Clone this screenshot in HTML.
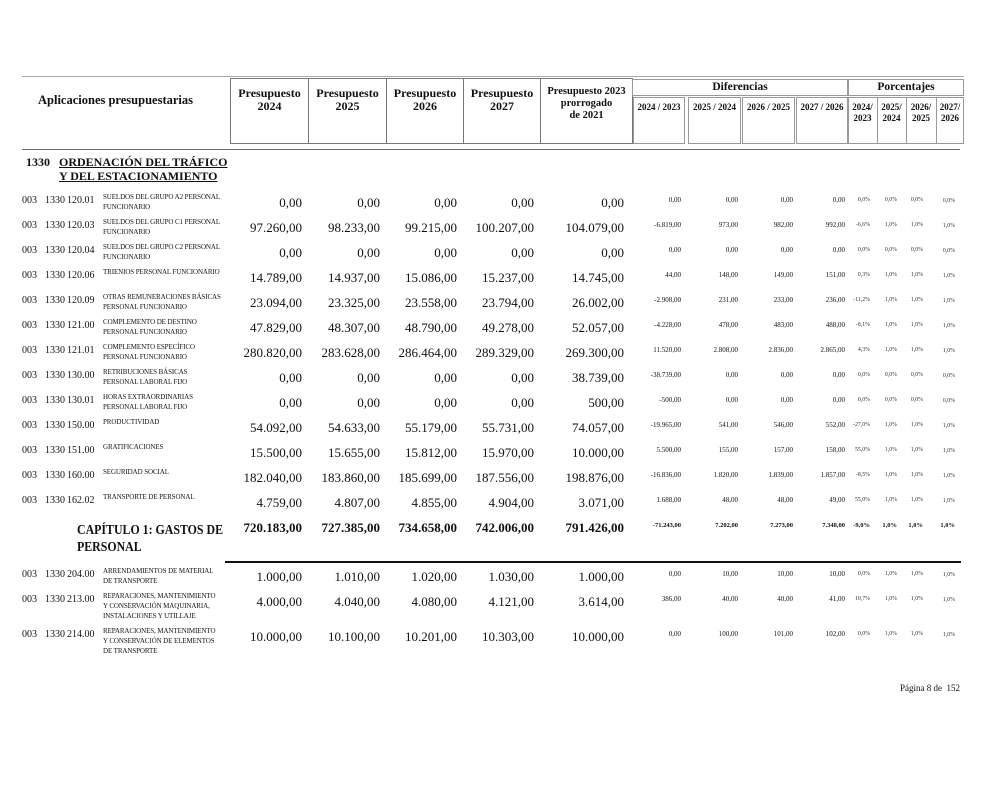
<!DOCTYPE html>
<html><head><meta charset="utf-8">
<style>
body{margin:0;background:#fff;}
#p{position:relative;width:1000px;height:792px;overflow:hidden;font-family:"Liberation Serif",serif;color:#111;}
.a{position:absolute;white-space:nowrap;}
.r{position:absolute;left:0;width:1000px;height:25px;}
.c{position:absolute;font-size:10px;top:0;}
.c1{left:22px}.c2{left:45px}.c3{left:67px}
.d{position:absolute;left:103px;font-size:7px;line-height:10px;top:-3px;letter-spacing:-0.1px;white-space:nowrap;}
.n{position:absolute;font-size:13px;top:0px;text-align:right;}
.s{position:absolute;font-size:7px;top:1px;text-align:right;}
.q{position:absolute;font-size:5.8px;top:2px;text-align:right;color:#333;}
.b{position:absolute;border:1px solid #555;box-sizing:border-box;}
.h{font-weight:bold;text-align:center;position:absolute;}
</style></head><body><div id="p">
<div class="a" style="left:22px;top:76px;width:942px;border-top:1px solid #aaa"></div>
<div class="a" style="left:22px;top:149px;width:938px;border-top:1px solid #666"></div>
<div class="h" style="left:38px;top:93px;font-size:12.5px">Aplicaciones presupuestarias</div>
<div class="b" style="left:230px;top:78px;width:79px;height:66px;border-color:#777"></div>
<div class="b" style="left:308px;top:78px;width:79px;height:66px;border-color:#777"></div>
<div class="b" style="left:386px;top:78px;width:78px;height:66px;border-color:#777"></div>
<div class="b" style="left:463px;top:78px;width:78px;height:66px;border-color:#777"></div>
<div class="b" style="left:540px;top:78px;width:93px;height:66px;border-color:#777"></div>
<div class="h" style="left:230px;top:87px;width:79px;font-size:12px;line-height:13px">Presupuesto<br>2024</div>
<div class="h" style="left:308px;top:87px;width:79px;font-size:12px;line-height:13px">Presupuesto<br>2025</div>
<div class="h" style="left:386px;top:87px;width:78px;font-size:12px;line-height:13px">Presupuesto<br>2026</div>
<div class="h" style="left:463px;top:87px;width:78px;font-size:12px;line-height:13px">Presupuesto<br>2027</div>
<div class="h" style="left:540px;top:86px;width:93px;font-size:10.5px;line-height:12px">Presupuesto 2023<br>prorrogado<br>de 2021</div>
<div class="b" style="left:632px;top:79px;width:216px;height:17px;border-color:#999"></div>
<div class="h" style="left:632px;top:81px;width:216px;font-size:11.5px">Diferencias</div>
<div class="b" style="left:848px;top:79px;width:116px;height:17px;border-color:#999"></div>
<div class="h" style="left:848px;top:81px;width:116px;font-size:11.5px">Porcentajes</div>
<div class="b" style="left:633px;top:97px;width:52px;height:47px;border-color:#999"></div>
<div class="b" style="left:688px;top:97px;width:53px;height:47px;border-color:#999"></div>
<div class="b" style="left:742px;top:97px;width:53px;height:47px;border-color:#999"></div>
<div class="b" style="left:796px;top:97px;width:52px;height:47px;border-color:#999"></div>
<div class="b" style="left:848px;top:97px;width:116px;height:47px;border-color:#999"></div>
<div class="a" style="left:877px;top:97px;height:47px;border-left:1px solid #999"></div>
<div class="a" style="left:906px;top:97px;height:47px;border-left:1px solid #999"></div>
<div class="a" style="left:936px;top:97px;height:47px;border-left:1px solid #999"></div>
<div class="h" style="left:633px;top:102px;width:52px;font-size:9px">2024 / 2023</div>
<div class="h" style="left:688px;top:102px;width:53px;font-size:9px">2025 / 2024</div>
<div class="h" style="left:742px;top:102px;width:53px;font-size:9px">2026 / 2025</div>
<div class="h" style="left:796px;top:102px;width:52px;font-size:9px">2027 / 2026</div>
<div class="h" style="left:848px;top:102px;width:29px;font-size:9px;line-height:11px">2024/<br>2023</div>
<div class="h" style="left:877px;top:102px;width:29px;font-size:9px;line-height:11px">2025/<br>2024</div>
<div class="h" style="left:906px;top:102px;width:30px;font-size:9px;line-height:11px">2026/<br>2025</div>
<div class="h" style="left:936px;top:102px;width:28px;font-size:9px;line-height:11px">2027/<br>2026</div>
<div class="a" style="left:26px;top:155px;font-size:12px;font-weight:bold">1330</div>
<div class="a" style="left:59px;top:155px;font-size:12px;font-weight:bold;text-decoration:underline;line-height:14px">ORDENACIÓN DEL TRÁFICO<br>Y DEL ESTACIONAMIENTO</div>

<div class="r" style="top:195px"><span class="c c1">003</span><span class="c c2">1330</span><span class="c c3">120.01</span><span class="d">SUELDOS DEL GRUPO A2 PERSONAL<br>FUNCIONARIO</span><span class="n" style="right:698px">0,00</span><span class="n" style="right:620px">0,00</span><span class="n" style="right:543px">0,00</span><span class="n" style="right:466px">0,00</span><span class="n" style="right:376px">0,00</span><span class="s" style="right:319px">0,00</span><span class="s" style="right:262px">0,00</span><span class="s" style="right:207px">0,00</span><span class="s" style="right:155px">0,00</span><span class="q" style="right:130px">0,0%</span><span class="q" style="right:103px">0,0%</span><span class="q" style="right:77px">0,0%</span><span class="q" style="right:45px;top:3px">0,0%</span></div>
<div class="r" style="top:220px"><span class="c c1">003</span><span class="c c2">1330</span><span class="c c3">120.03</span><span class="d">SUELDOS DEL GRUPO C1 PERSONAL<br>FUNCIONARIO</span><span class="n" style="right:698px">97.260,00</span><span class="n" style="right:620px">98.233,00</span><span class="n" style="right:543px">99.215,00</span><span class="n" style="right:466px">100.207,00</span><span class="n" style="right:376px">104.079,00</span><span class="s" style="right:319px">-6.819,00</span><span class="s" style="right:262px">973,00</span><span class="s" style="right:207px">982,00</span><span class="s" style="right:155px">992,00</span><span class="q" style="right:130px">-6,6%</span><span class="q" style="right:103px">1,0%</span><span class="q" style="right:77px">1,0%</span><span class="q" style="right:45px;top:3px">1,0%</span></div>
<div class="r" style="top:245px"><span class="c c1">003</span><span class="c c2">1330</span><span class="c c3">120.04</span><span class="d">SUELDOS DEL GRUPO C2 PERSONAL<br>FUNCIONARIO</span><span class="n" style="right:698px">0,00</span><span class="n" style="right:620px">0,00</span><span class="n" style="right:543px">0,00</span><span class="n" style="right:466px">0,00</span><span class="n" style="right:376px">0,00</span><span class="s" style="right:319px">0,00</span><span class="s" style="right:262px">0,00</span><span class="s" style="right:207px">0,00</span><span class="s" style="right:155px">0,00</span><span class="q" style="right:130px">0,0%</span><span class="q" style="right:103px">0,0%</span><span class="q" style="right:77px">0,0%</span><span class="q" style="right:45px;top:3px">0,0%</span></div>
<div class="r" style="top:270px"><span class="c c1">003</span><span class="c c2">1330</span><span class="c c3">120.06</span><span class="d">TRIENIOS PERSONAL FUNCIONARIO</span><span class="n" style="right:698px">14.789,00</span><span class="n" style="right:620px">14.937,00</span><span class="n" style="right:543px">15.086,00</span><span class="n" style="right:466px">15.237,00</span><span class="n" style="right:376px">14.745,00</span><span class="s" style="right:319px">44,00</span><span class="s" style="right:262px">148,00</span><span class="s" style="right:207px">149,00</span><span class="s" style="right:155px">151,00</span><span class="q" style="right:130px">0,3%</span><span class="q" style="right:103px">1,0%</span><span class="q" style="right:77px">1,0%</span><span class="q" style="right:45px;top:3px">1,0%</span></div>
<div class="r" style="top:295px"><span class="c c1">003</span><span class="c c2">1330</span><span class="c c3">120.09</span><span class="d">OTRAS REMUNERACIONES BÁSICAS<br>PERSONAL FUNCIONARIO</span><span class="n" style="right:698px">23.094,00</span><span class="n" style="right:620px">23.325,00</span><span class="n" style="right:543px">23.558,00</span><span class="n" style="right:466px">23.794,00</span><span class="n" style="right:376px">26.002,00</span><span class="s" style="right:319px">-2.908,00</span><span class="s" style="right:262px">231,00</span><span class="s" style="right:207px">233,00</span><span class="s" style="right:155px">236,00</span><span class="q" style="right:130px">-11,2%</span><span class="q" style="right:103px">1,0%</span><span class="q" style="right:77px">1,0%</span><span class="q" style="right:45px;top:3px">1,0%</span></div>
<div class="r" style="top:320px"><span class="c c1">003</span><span class="c c2">1330</span><span class="c c3">121.00</span><span class="d">COMPLEMENTO DE DESTINO<br>PERSONAL FUNCIONARIO</span><span class="n" style="right:698px">47.829,00</span><span class="n" style="right:620px">48.307,00</span><span class="n" style="right:543px">48.790,00</span><span class="n" style="right:466px">49.278,00</span><span class="n" style="right:376px">52.057,00</span><span class="s" style="right:319px">-4.228,00</span><span class="s" style="right:262px">478,00</span><span class="s" style="right:207px">483,00</span><span class="s" style="right:155px">488,00</span><span class="q" style="right:130px">-8,1%</span><span class="q" style="right:103px">1,0%</span><span class="q" style="right:77px">1,0%</span><span class="q" style="right:45px;top:3px">1,0%</span></div>
<div class="r" style="top:345px"><span class="c c1">003</span><span class="c c2">1330</span><span class="c c3">121.01</span><span class="d">COMPLEMENTO ESPECÍFICO<br>PERSONAL FUNCIONARIO</span><span class="n" style="right:698px">280.820,00</span><span class="n" style="right:620px">283.628,00</span><span class="n" style="right:543px">286.464,00</span><span class="n" style="right:466px">289.329,00</span><span class="n" style="right:376px">269.300,00</span><span class="s" style="right:319px">11.520,00</span><span class="s" style="right:262px">2.808,00</span><span class="s" style="right:207px">2.836,00</span><span class="s" style="right:155px">2.865,00</span><span class="q" style="right:130px">4,3%</span><span class="q" style="right:103px">1,0%</span><span class="q" style="right:77px">1,0%</span><span class="q" style="right:45px;top:3px">1,0%</span></div>
<div class="r" style="top:370px"><span class="c c1">003</span><span class="c c2">1330</span><span class="c c3">130.00</span><span class="d">RETRIBUCIONES BÁSICAS<br>PERSONAL LABORAL FIJO</span><span class="n" style="right:698px">0,00</span><span class="n" style="right:620px">0,00</span><span class="n" style="right:543px">0,00</span><span class="n" style="right:466px">0,00</span><span class="n" style="right:376px">38.739,00</span><span class="s" style="right:319px">-38.739,00</span><span class="s" style="right:262px">0,00</span><span class="s" style="right:207px">0,00</span><span class="s" style="right:155px">0,00</span><span class="q" style="right:130px">0,0%</span><span class="q" style="right:103px">0,0%</span><span class="q" style="right:77px">0,0%</span><span class="q" style="right:45px;top:3px">0,0%</span></div>
<div class="r" style="top:395px"><span class="c c1">003</span><span class="c c2">1330</span><span class="c c3">130.01</span><span class="d">HORAS EXTRAORDINARIAS<br>PERSONAL LABORAL FIJO</span><span class="n" style="right:698px">0,00</span><span class="n" style="right:620px">0,00</span><span class="n" style="right:543px">0,00</span><span class="n" style="right:466px">0,00</span><span class="n" style="right:376px">500,00</span><span class="s" style="right:319px">-500,00</span><span class="s" style="right:262px">0,00</span><span class="s" style="right:207px">0,00</span><span class="s" style="right:155px">0,00</span><span class="q" style="right:130px">0,0%</span><span class="q" style="right:103px">0,0%</span><span class="q" style="right:77px">0,0%</span><span class="q" style="right:45px;top:3px">0,0%</span></div>
<div class="r" style="top:420px"><span class="c c1">003</span><span class="c c2">1330</span><span class="c c3">150.00</span><span class="d">PRODUCTIVIDAD</span><span class="n" style="right:698px">54.092,00</span><span class="n" style="right:620px">54.633,00</span><span class="n" style="right:543px">55.179,00</span><span class="n" style="right:466px">55.731,00</span><span class="n" style="right:376px">74.057,00</span><span class="s" style="right:319px">-19.965,00</span><span class="s" style="right:262px">541,00</span><span class="s" style="right:207px">546,00</span><span class="s" style="right:155px">552,00</span><span class="q" style="right:130px">-27,0%</span><span class="q" style="right:103px">1,0%</span><span class="q" style="right:77px">1,0%</span><span class="q" style="right:45px;top:3px">1,0%</span></div>
<div class="r" style="top:445px"><span class="c c1">003</span><span class="c c2">1330</span><span class="c c3">151.00</span><span class="d">GRATIFICACIONES</span><span class="n" style="right:698px">15.500,00</span><span class="n" style="right:620px">15.655,00</span><span class="n" style="right:543px">15.812,00</span><span class="n" style="right:466px">15.970,00</span><span class="n" style="right:376px">10.000,00</span><span class="s" style="right:319px">5.500,00</span><span class="s" style="right:262px">155,00</span><span class="s" style="right:207px">157,00</span><span class="s" style="right:155px">158,00</span><span class="q" style="right:130px">55,0%</span><span class="q" style="right:103px">1,0%</span><span class="q" style="right:77px">1,0%</span><span class="q" style="right:45px;top:3px">1,0%</span></div>
<div class="r" style="top:470px"><span class="c c1">003</span><span class="c c2">1330</span><span class="c c3">160.00</span><span class="d">SEGURIDAD SOCIAL</span><span class="n" style="right:698px">182.040,00</span><span class="n" style="right:620px">183.860,00</span><span class="n" style="right:543px">185.699,00</span><span class="n" style="right:466px">187.556,00</span><span class="n" style="right:376px">198.876,00</span><span class="s" style="right:319px">-16.836,00</span><span class="s" style="right:262px">1.820,00</span><span class="s" style="right:207px">1.839,00</span><span class="s" style="right:155px">1.857,00</span><span class="q" style="right:130px">-8,5%</span><span class="q" style="right:103px">1,0%</span><span class="q" style="right:77px">1,0%</span><span class="q" style="right:45px;top:3px">1,0%</span></div>
<div class="r" style="top:495px"><span class="c c1">003</span><span class="c c2">1330</span><span class="c c3">162.02</span><span class="d">TRANSPORTE DE PERSONAL</span><span class="n" style="right:698px">4.759,00</span><span class="n" style="right:620px">4.807,00</span><span class="n" style="right:543px">4.855,00</span><span class="n" style="right:466px">4.904,00</span><span class="n" style="right:376px">3.071,00</span><span class="s" style="right:319px">1.688,00</span><span class="s" style="right:262px">48,00</span><span class="s" style="right:207px">48,00</span><span class="s" style="right:155px">49,00</span><span class="q" style="right:130px">55,0%</span><span class="q" style="right:103px">1,0%</span><span class="q" style="right:77px">1,0%</span><span class="q" style="right:45px;top:3px">1,0%</span></div>

<div class="r" style="top:520px;font-weight:bold"><span class="a" style="left:77px;top:1px;font-size:13.5px;line-height:17px;transform:scaleX(0.88);transform-origin:0 0">CAPÍTULO 1: GASTOS DE<br>PERSONAL</span><span class="n" style="right:698px">720.183,00</span><span class="n" style="right:620px">727.385,00</span><span class="n" style="right:543px">734.658,00</span><span class="n" style="right:466px">742.006,00</span><span class="n" style="right:376px">791.426,00</span><span class="s" style="right:319px;font-size:6.5px;top:2px">-71.243,00</span><span class="s" style="right:262px;font-size:6.5px;top:2px">7.202,00</span><span class="s" style="right:207px;font-size:6.5px;top:2px">7.273,00</span><span class="s" style="right:155px;font-size:6.5px;top:2px">7.348,00</span><span class="q" style="right:130px;font-size:6.5px;color:#111">-9,0%</span><span class="q" style="right:103px;font-size:6.5px;color:#111">1,0%</span><span class="q" style="right:77px;font-size:6.5px;color:#111">1,0%</span><span class="q" style="right:45px;font-size:6.5px;color:#111">1,0%</span></div>
<div class="a" style="left:225px;top:561px;width:736px;border-top:2px solid #111"></div>
<div class="r" style="top:569px"><span class="c c1">003</span><span class="c c2">1330</span><span class="c c3">204.00</span><span class="d">ARRENDAMIENTOS DE MATERIAL<br>DE TRANSPORTE</span><span class="n" style="right:698px">1.000,00</span><span class="n" style="right:620px">1.010,00</span><span class="n" style="right:543px">1.020,00</span><span class="n" style="right:466px">1.030,00</span><span class="n" style="right:376px">1.000,00</span><span class="s" style="right:319px">0,00</span><span class="s" style="right:262px">10,00</span><span class="s" style="right:207px">10,00</span><span class="s" style="right:155px">10,00</span><span class="q" style="right:130px">0,0%</span><span class="q" style="right:103px">1,0%</span><span class="q" style="right:77px">1,0%</span><span class="q" style="right:45px;top:3px">1,0%</span></div>
<div class="r" style="top:594px"><span class="c c1">003</span><span class="c c2">1330</span><span class="c c3">213.00</span><span class="d">REPARACIONES, MANTENIMIENTO<br>Y CONSERVACIÓN MAQUINARIA,<br>INSTALACIONES Y UTILLAJE</span><span class="n" style="right:698px">4.000,00</span><span class="n" style="right:620px">4.040,00</span><span class="n" style="right:543px">4.080,00</span><span class="n" style="right:466px">4.121,00</span><span class="n" style="right:376px">3.614,00</span><span class="s" style="right:319px">386,00</span><span class="s" style="right:262px">40,00</span><span class="s" style="right:207px">40,00</span><span class="s" style="right:155px">41,00</span><span class="q" style="right:130px">10,7%</span><span class="q" style="right:103px">1,0%</span><span class="q" style="right:77px">1,0%</span><span class="q" style="right:45px;top:3px">1,0%</span></div>
<div class="r" style="top:629px"><span class="c c1">003</span><span class="c c2">1330</span><span class="c c3">214.00</span><span class="d">REPARACIONES, MANTENIMIENTO<br>Y CONSERVACIÓN DE ELEMENTOS<br>DE TRANSPORTE</span><span class="n" style="right:698px">10.000,00</span><span class="n" style="right:620px">10.100,00</span><span class="n" style="right:543px">10.201,00</span><span class="n" style="right:466px">10.303,00</span><span class="n" style="right:376px">10.000,00</span><span class="s" style="right:319px">0,00</span><span class="s" style="right:262px">100,00</span><span class="s" style="right:207px">101,00</span><span class="s" style="right:155px">102,00</span><span class="q" style="right:130px">0,0%</span><span class="q" style="right:103px">1,0%</span><span class="q" style="right:77px">1,0%</span><span class="q" style="right:45px;top:3px">1,0%</span></div>
<div class="a" style="right:40px;top:683px;font-size:9px">Página 8 de &nbsp;152</div>
</div></body></html>
